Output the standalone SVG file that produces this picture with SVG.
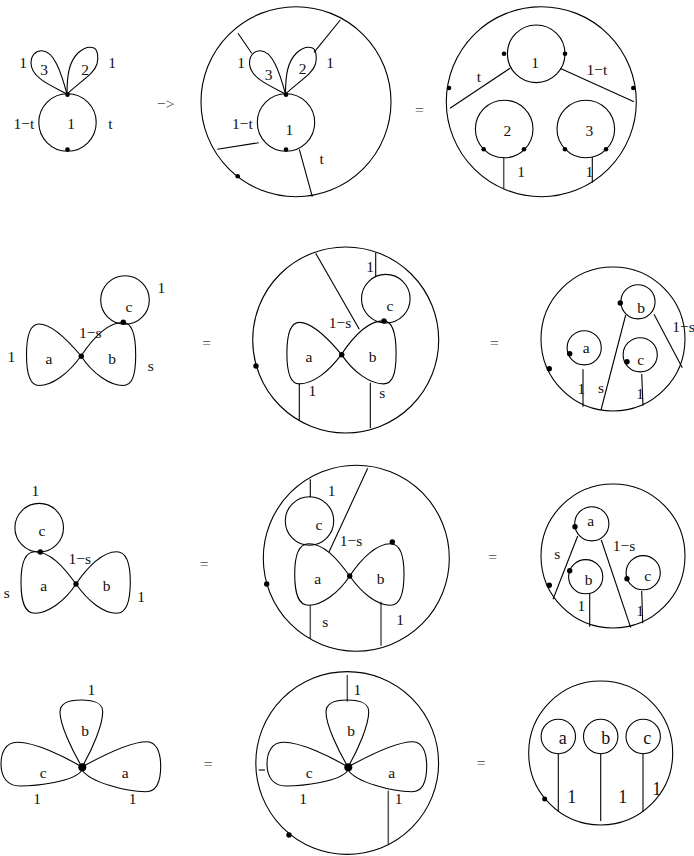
<svg xmlns="http://www.w3.org/2000/svg" xmlns:xlink="http://www.w3.org/1999/xlink" width="694" height="856" viewBox="0 0 694 856">
<style>
text{font-family:"Liberation Serif","Times New Roman",serif;font-size:15.5px;text-anchor:middle;fill:#111}
.big{font-size:18px}
.op{fill:#444}
.o,.o *{fill:none;stroke:#000;stroke-width:1.1}
.c line{stroke:#000;stroke-width:1.1}
.c line.g{stroke:#555;stroke-width:1.5}
.d{fill:#000;stroke:none}
</style>
<defs>
<path id="p3" d="M67,94 C52,86 31,78 31,63 C31,55 36,50.5 42,50.7 C54,51 61,72 67,94Z"/>
<path id="p2" d="M67,94 C67,75 69,62 78,53 C84,47.5 90,46.5 94,48 C98,50 98.5,58 97,64 C94,74 82,80 67,94Z"/>
<path id="la" d="M81,356 C66,338 50,324 39,324 C31,324 26.5,334 26.5,355 C26.5,376 31,385.5 39,385.5 C52,385.5 68,374 81,356Z"/>
<path id="lb" d="M81,356 C93,338 108,322.5 123,322.5 C132,322.5 135.7,335 135.7,355 C135.7,376 132,385.5 123,385.5 C110,385.5 93,374 81,356Z"/>
<path id="la3" d="M76,584 C63,566 50,551.7 35,551.7 C25,551.7 21,562 21,582 C21,603 25,613.3 35,613.3 C48,613.3 65,601 76,584Z"/>
<path id="lb3" d="M76,584 C88,566 103,551.7 116.7,551.7 C126,551.7 130.3,562 130.3,582 C130.3,603 126,613.3 116.7,613.3 C103,613.3 88,601 76,584Z"/>
<path id="pb" d="M82,767 C72,750 60,725 60,712 C60,703 68,700 81,700 C95,700 102.7,703 102.7,712 C102.7,725 92,750 82,767Z"/>
<path id="pc" d="M82,767 C65,757 35,742 17,742.3 C6,742.5 1,752 1,764 C1,778 8,786 20,786 C35,786 75,782 82,770Z"/>
<path id="pa" d="M82,767 C100,757 130,741.7 147,741.7 C156,741.7 160.7,752 160.7,766 C160.7,782 156,791.7 146,791.7 C125,791.7 90,782 82,770Z"/>
</defs>

<g id="connectors" class="c">
<line x1="238" y1="33.3" x2="251.7" y2="53.3"/>
<line x1="340.3" y1="20" x2="314" y2="52.3"/>
<line x1="217.3" y1="149.3" x2="258.7" y2="142.7"/>
<line x1="299.3" y1="149.3" x2="312.3" y2="196.7"/>
<line x1="450" y1="108.3" x2="510" y2="68.3"/>
<line x1="560" y1="68.3" x2="634" y2="101.7"/>
<line class="g" x1="503.7" y1="157.3" x2="503.7" y2="188.7"/>
<line x1="592.3" y1="157.3" x2="592.3" y2="182.7"/>
<line x1="315.7" y1="253.3" x2="359.3" y2="329.3"/>
<line x1="375.7" y1="252.7" x2="375.7" y2="276"/>
<line x1="299.3" y1="384" x2="299.3" y2="420.7"/>
<line x1="370.3" y1="382.7" x2="370.3" y2="428.3"/>
<line x1="625.7" y1="315" x2="601" y2="410"/>
<line x1="654" y1="314.3" x2="682.3" y2="367.7"/>
<line x1="583" y1="369.3" x2="583" y2="406.7"/>
<line x1="641.7" y1="374" x2="643" y2="405.7"/>
<line x1="310.3" y1="479.3" x2="310.3" y2="497.3"/>
<line x1="367.7" y1="468.3" x2="329" y2="552"/>
<line class="g" x1="310.3" y1="605" x2="310.3" y2="639"/>
<line class="g" x1="381" y1="601.7" x2="381" y2="645.7"/>
<line x1="577.7" y1="536" x2="553" y2="599.3"/>
<line x1="601.3" y1="540" x2="630.7" y2="627.7"/>
<line x1="589.7" y1="594" x2="589.7" y2="626.7"/>
<line x1="641.7" y1="591" x2="642.7" y2="623.3"/>
<line class="g" x1="347.3" y1="675" x2="347.3" y2="701.7"/>
<line class="g" x1="388.3" y1="790.7" x2="388.3" y2="844.3"/>
<line x1="258.7" y1="770" x2="265" y2="770"/>
<line x1="558.3" y1="753.7" x2="558.3" y2="811.7"/>
<line x1="600.7" y1="753.7" x2="600.7" y2="821"/>
<line x1="643" y1="753.7" x2="643" y2="811.7"/>
</g>

<g id="r1-left">
<g class="o"><circle cx="67.5" cy="122.5" r="28.7"/><use href="#p3"/><use href="#p2"/></g>
<circle class="d" cx="67.5" cy="94.7" r="2.3"/><circle class="d" cx="67.5" cy="149.5" r="2.3"/>
<text x="23" y="68">1</text><text x="44" y="75">3</text><text x="85" y="75">2</text><text x="112" y="68">1</text><text x="24" y="129">1−t</text><text x="71" y="129">1</text><text x="110.5" y="129">t</text>
</g>
<text class="op" x="165.7" y="109">−&gt;</text>
<g id="r1-mid">
<g class="o"><circle cx="296" cy="101.7" r="95"/><circle cx="286" cy="122.5" r="28.7"/><use href="#p3" x="218.5"/><use href="#p2" x="218.5"/></g>
<circle class="d" cx="286" cy="94.7" r="2.3"/><circle class="d" cx="286" cy="149.5" r="2.3"/><circle class="d" cx="237.7" cy="176.3" r="2.3"/>
<text x="241" y="68">1</text><text x="268.7" y="80">3</text><text x="302.7" y="74">2</text><text x="330" y="68">1</text><text x="242.3" y="129">1−t</text><text x="289.3" y="135">1</text><text x="321.7" y="164">t</text>
</g>
<text class="op" x="419.3" y="115">=</text>
<g id="r1-right">
<g class="o"><circle cx="541.3" cy="101.7" r="95"/><circle cx="536.2" cy="53.8" r="28.8"/><circle cx="504.2" cy="129" r="28.8"/><circle cx="585.8" cy="129" r="28.8"/></g>
<circle class="d" cx="504" cy="53.7" r="2.3"/><circle class="d" cx="565" cy="53.7" r="2.3"/><circle class="d" cx="449" cy="88" r="2.3"/><circle class="d" cx="633.3" cy="88" r="2.3"/><circle class="d" cx="483.7" cy="149.3" r="2.3"/><circle class="d" cx="524" cy="149.3" r="2.3"/><circle class="d" cx="565" cy="149.3" r="2.3"/><circle class="d" cx="606" cy="149.3" r="2.3"/>
<text x="535" y="68">1</text><text x="479" y="82">t</text><text x="597" y="75">1−t</text><text x="507.3" y="136">2</text><text x="589.3" y="136">3</text><text x="521" y="177">1</text><text x="589.3" y="177">1</text>
</g>

<g id="r2-left">
<g class="o"><circle cx="125" cy="300" r="24.3"/><use href="#la"/><use href="#lb"/></g>
<circle class="d" cx="123.3" cy="322.3" r="2.7"/><circle class="d" cx="81.3" cy="356.3" r="2.7"/>
<text x="161.3" y="292.7">1</text><text x="129" y="311.7">c</text><text x="90.3" y="338">1−s</text><text x="11.3" y="361.7">1</text><text x="49" y="364">a</text><text x="112" y="364">b</text><text x="150.7" y="371">s</text>
</g>
<text class="op" x="206.7" y="348">=</text>
<g id="r2-mid">
<g class="o"><circle cx="345.7" cy="340" r="93"/><circle cx="385.8" cy="298.7" r="24.3"/><use href="#la" x="260.4" y="-1.6"/><use href="#lb" x="260.4" y="-1.6"/></g>
<circle class="d" cx="384" cy="321" r="2.7"/><circle class="d" cx="341.7" cy="354.7" r="2.7"/><circle class="d" cx="256" cy="366" r="2.7"/>
<text x="370" y="271.7">1</text><text x="390" y="310.7">c</text><text x="340" y="328.3">1−s</text><text x="309" y="362">a</text><text x="372.7" y="362">b</text><text x="312.3" y="395.7">1</text><text x="382.3" y="398.3">s</text>
</g>
<text class="op" x="494.3" y="348">=</text>
<g id="r2-right">
<g class="o"><circle cx="613" cy="339" r="72"/><circle cx="638" cy="301.8" r="17.1"/><circle cx="584.2" cy="347.8" r="17.1"/><circle cx="640.2" cy="354.8" r="17.1"/></g>
<circle class="d" cx="620.3" cy="303" r="2.7"/><circle class="d" cx="569.7" cy="353.7" r="2.7"/><circle class="d" cx="627" cy="361.7" r="2.7"/><circle class="d" cx="549.3" cy="368.7" r="2.7"/>
<text x="586.3" y="353.3">a</text><text x="641" y="313.3">b</text><text x="640.7" y="365">c</text><text x="581.3" y="394.3">1</text><text x="601" y="392.7">s</text><text x="640" y="399.3">1</text><text x="683.5" y="331.7">1−s</text>
</g>

<g id="r3-left">
<g class="o"><circle cx="39.2" cy="527.7" r="24.3"/><use href="#la3"/><use href="#lb3"/></g>
<circle class="d" cx="40.3" cy="552" r="2.7"/><circle class="d" cx="76" cy="584" r="2.7"/>
<text x="35.3" y="495.7">1</text><text x="42" y="536">c</text><text x="79.7" y="564">1−s</text><text x="6.7" y="597.7">s</text><text x="43.7" y="591">a</text><text x="106.7" y="591">b</text><text x="141" y="601.7">1</text>
</g>
<text class="op" x="204" y="569.3">=</text>
<g id="r3-mid">
<g class="o"><circle cx="356.3" cy="558.2" r="93"/><circle cx="309.5" cy="521" r="24.2"/><use href="#la3" x="273.7" y="-8"/><use href="#lb3" x="273.7" y="-8"/></g>
<circle class="d" cx="349.7" cy="576" r="2.7"/><circle class="d" cx="392.3" cy="542" r="2.7"/><circle class="d" cx="266.7" cy="584" r="2.7"/>
<text x="331.7" y="495.7">1</text><text x="319" y="530">c</text><text x="351" y="546">1−s</text><text x="317.7" y="584.3">a</text><text x="380.7" y="584.3">b</text><text x="325.3" y="627.3">s</text><text x="400" y="625">1</text>
</g>
<text class="op" x="492.7" y="561.7">=</text>
<g id="r3-right">
<g class="o"><circle cx="613" cy="556" r="72"/><circle cx="591.8" cy="523.8" r="17.1"/><circle cx="585.7" cy="576.7" r="17.1"/><circle cx="643.2" cy="572.7" r="17.1"/></g>
<circle class="d" cx="575" cy="526.7" r="2.7"/><circle class="d" cx="549.3" cy="585.3" r="2.7"/><circle class="d" cx="569.7" cy="570.7" r="2.7"/><circle class="d" cx="627" cy="578.7" r="2.7"/>
<text x="590.7" y="526">a</text><text x="557.3" y="559.3">s</text><text x="624" y="550.7">1−s</text><text x="588.7" y="585">b</text><text x="647.7" y="581">c</text><text x="581.3" y="610.7">1</text><text x="640" y="616">1</text>
</g>

<g id="r4-left">
<g class="o"><use href="#pb"/><use href="#pc"/><use href="#pa"/></g>
<circle class="d" cx="82.3" cy="767.3" r="4"/>
<text x="91.3" y="695">1</text><text x="85" y="736">b</text><text x="43.3" y="777.7">c</text><text x="125.3" y="777.7">a</text><text x="37" y="804">1</text><text x="132.7" y="804">1</text>
</g>
<text class="op" x="208" y="768.7">=</text>
<g id="r4-mid">
<g class="o"><circle cx="347.2" cy="763" r="91.4"/><use href="#pb" x="266"/><use href="#pc" x="266"/><use href="#pa" x="266"/></g>
<circle class="d" cx="348.3" cy="767.3" r="4"/><circle class="d" cx="289" cy="835" r="2.7"/>
<text x="357.3" y="695">1</text><text x="351" y="736">b</text><text x="309.3" y="777.7">c</text><text x="391.7" y="777.7">a</text><text x="303" y="804">1</text><text x="398.7" y="804">1</text>
</g>
<text class="op" x="481" y="768">=</text>
<g id="r4-right">
<g class="o"><circle cx="600.7" cy="753" r="72"/><circle cx="558.3" cy="736.5" r="17.2"/><circle cx="600.7" cy="736.5" r="17.2"/><circle cx="643.2" cy="736.5" r="17.2"/></g>
<circle class="d" cx="544.7" cy="799" r="2.5"/>
<text class="big" x="562.7" y="744.3">a</text><text class="big" x="605.7" y="744.3">b</text><text class="big" x="647.3" y="744.3">c</text><text class="big" x="571.7" y="803.3">1</text><text class="big" x="622.7" y="803.3">1</text><text class="big" x="656.7" y="795">1</text>
</g>
</svg>
